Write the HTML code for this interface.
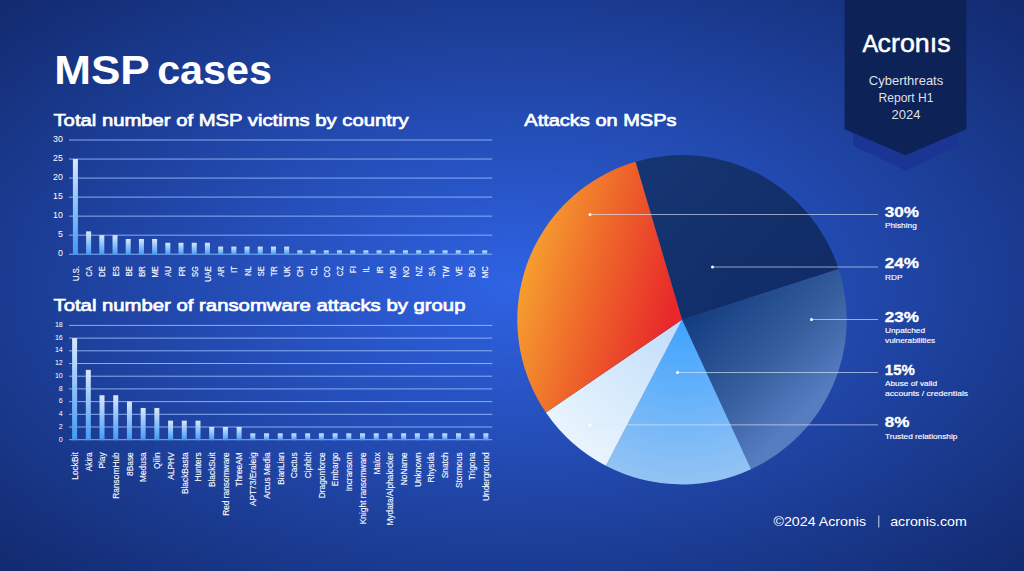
<!DOCTYPE html>
<html><head><meta charset="utf-8"><title>MSP cases</title>
<style>
html,body{margin:0;padding:0;background:#122A6E;}
body{width:1024px;height:571px;overflow:hidden;font-family:"Liberation Sans",sans-serif;}
svg{display:block;font-family:"Liberation Sans",sans-serif;}
text{fill:#fff;}
</style></head><body>
<svg width="1024" height="571" viewBox="0 0 1024 571">
<defs>
<radialGradient id="bg" cx="512" cy="285.5" r="1" gradientUnits="userSpaceOnUse" gradientTransform="translate(512 285.5) scale(724 403.8) translate(-512 -285.5)">
<stop offset="0" stop-color="#2F63E4"/><stop offset="1" stop-color="#122A6E"/></radialGradient>
<linearGradient id="bar" x1="0" y1="0" x2="0" y2="1"><stop offset="0" stop-color="#D9E8FC"/><stop offset="1" stop-color="#4199F6"/></linearGradient>
<linearGradient id="or" x1="518" y1="285" x2="682" y2="329" gradientUnits="userSpaceOnUse"><stop offset="0" stop-color="#F6A030"/><stop offset="0.45" stop-color="#EE642A"/><stop offset="0.92" stop-color="#E8282A"/></linearGradient>
<linearGradient id="navy" x1="640" y1="165" x2="790" y2="300" gradientUnits="userSpaceOnUse"><stop offset="0" stop-color="#153572"/><stop offset="1" stop-color="#112C66"/></linearGradient>
<linearGradient id="mid" x1="682" y1="320" x2="789" y2="428" gradientUnits="userSpaceOnUse"><stop offset="0" stop-color="#123C7F"/><stop offset="0.6" stop-color="#375F9F"/><stop offset="1" stop-color="#567DC0"/></linearGradient>
<radialGradient id="lb" cx="682" cy="320" r="165" gradientUnits="userSpaceOnUse"><stop offset="0" stop-color="#3FA3FF"/><stop offset="1" stop-color="#93C3F4"/></radialGradient>
<radialGradient id="vl" cx="682" cy="320" r="165" gradientUnits="userSpaceOnUse"><stop offset="0" stop-color="#BFDDFA"/><stop offset="1" stop-color="#E9F4FD"/></radialGradient>
</defs>
<rect width="1024" height="571" fill="url(#bg)"/>

<polygon points="853,120 958,120 958,145.5 905.5,170.5 853,145.5" fill="#1B3594"/>
<polygon points="844.6,0 966.4,0 966.4,129.3 905.5,155.2 844.6,129.3" fill="#0D2357"/>
<text transform="translate(862.60 51.60)" font-size="23.5" stroke="#fff" stroke-width="0.5">A</text>
<text transform="translate(877.60 51.60) scale(1.015 1)" font-size="26.4" stroke="#fff" stroke-width="0.5">cronıs</text>
<text transform="translate(906.00 85.20)" font-size="13" text-anchor="middle" fill="#DCE3F5" fill-opacity="0.88">Cyberthreats</text>
<text transform="translate(906.00 102.00) scale(0.93 1)" font-size="13" text-anchor="middle" fill="#DCE3F5" fill-opacity="0.88">Report H1</text>
<text transform="translate(906.00 118.80)" font-size="13" text-anchor="middle" fill="#DCE3F5" fill-opacity="0.88">2024</text>
<text transform="translate(54.20 83.80) scale(1.094 1)" font-size="40.3" font-weight="bold">MSP</text>
<text transform="translate(157.20 83.80) scale(1.023 1)" font-size="40.3" font-weight="bold">cases</text>
<text transform="translate(53.50 126.40) scale(1.178 1)" font-size="17.2" stroke="#fff" stroke-width="0.7">Total number of MSP victims by country</text>
<text transform="translate(53.50 311.40) scale(1.181 1)" font-size="17.2" stroke="#fff" stroke-width="0.7">Total number of ransomware attacks by group</text>
<text transform="translate(524.30 126.40) scale(1.163 1)" font-size="17.2" stroke="#fff" stroke-width="0.7">Attacks on MSPs</text>
<rect x="69" y="139.50" width="423.3" height="1" fill="#93B7F8" opacity="0.9"/>
<text transform="translate(62.80 141.80)" font-size="8.8" text-anchor="end" fill="#E4ECFB">30</text>
<rect x="69" y="158.53" width="423.3" height="1" fill="#93B7F8" opacity="0.9"/>
<text transform="translate(62.80 160.90)" font-size="8.8" text-anchor="end" fill="#E4ECFB">25</text>
<rect x="69" y="177.57" width="423.3" height="1" fill="#93B7F8" opacity="0.9"/>
<text transform="translate(62.80 180.00)" font-size="8.8" text-anchor="end" fill="#E4ECFB">20</text>
<rect x="69" y="196.60" width="423.3" height="1" fill="#93B7F8" opacity="0.9"/>
<text transform="translate(62.80 199.10)" font-size="8.8" text-anchor="end" fill="#E4ECFB">15</text>
<rect x="69" y="215.63" width="423.3" height="1" fill="#93B7F8" opacity="0.9"/>
<text transform="translate(62.80 218.20)" font-size="8.8" text-anchor="end" fill="#E4ECFB">10</text>
<rect x="69" y="234.67" width="423.3" height="1" fill="#93B7F8" opacity="0.9"/>
<text transform="translate(62.80 237.30)" font-size="8.8" text-anchor="end" fill="#E4ECFB">5</text>
<rect x="69" y="253.70" width="423.3" height="1" fill="#93B7F8" opacity="0.9"/>
<text transform="translate(62.80 256.40)" font-size="8.8" text-anchor="end" fill="#E4ECFB">0</text>
<rect x="72.90" y="159.03" width="5" height="95.67" fill="url(#bar)"/>
<text transform="translate(78.92 266.20) rotate(-90) scale(0.86 1)" font-size="8.8" text-anchor="end" fill="#F4F7FE" stroke="#F4F7FE" stroke-width="0.12">U.S.</text>
<rect x="86.10" y="231.36" width="5" height="23.34" fill="url(#bar)"/>
<text transform="translate(92.12 266.20) rotate(-90) scale(0.86 1)" font-size="8.8" text-anchor="end" fill="#F4F7FE" stroke="#F4F7FE" stroke-width="0.12">CA</text>
<rect x="99.31" y="235.17" width="5" height="19.53" fill="url(#bar)"/>
<text transform="translate(105.33 266.20) rotate(-90) scale(0.86 1)" font-size="8.8" text-anchor="end" fill="#F4F7FE" stroke="#F4F7FE" stroke-width="0.12">DE</text>
<rect x="112.51" y="235.17" width="5" height="19.53" fill="url(#bar)"/>
<text transform="translate(118.53 266.20) rotate(-90) scale(0.86 1)" font-size="8.8" text-anchor="end" fill="#F4F7FE" stroke="#F4F7FE" stroke-width="0.12">ES</text>
<rect x="125.71" y="238.97" width="5" height="15.73" fill="url(#bar)"/>
<text transform="translate(131.73 266.20) rotate(-90) scale(0.86 1)" font-size="8.8" text-anchor="end" fill="#F4F7FE" stroke="#F4F7FE" stroke-width="0.12">BE</text>
<rect x="138.92" y="238.97" width="5" height="15.73" fill="url(#bar)"/>
<text transform="translate(144.94 266.20) rotate(-90) scale(0.86 1)" font-size="8.8" text-anchor="end" fill="#F4F7FE" stroke="#F4F7FE" stroke-width="0.12">BR</text>
<rect x="152.12" y="238.97" width="5" height="15.73" fill="url(#bar)"/>
<text transform="translate(158.14 266.20) rotate(-90) scale(0.86 1)" font-size="8.8" text-anchor="end" fill="#F4F7FE" stroke="#F4F7FE" stroke-width="0.12">ME</text>
<rect x="165.32" y="242.78" width="5" height="11.92" fill="url(#bar)"/>
<text transform="translate(171.34 266.20) rotate(-90) scale(0.86 1)" font-size="8.8" text-anchor="end" fill="#F4F7FE" stroke="#F4F7FE" stroke-width="0.12">AU</text>
<rect x="178.53" y="242.78" width="5" height="11.92" fill="url(#bar)"/>
<text transform="translate(184.55 266.20) rotate(-90) scale(0.86 1)" font-size="8.8" text-anchor="end" fill="#F4F7FE" stroke="#F4F7FE" stroke-width="0.12">FR</text>
<rect x="191.73" y="242.78" width="5" height="11.92" fill="url(#bar)"/>
<text transform="translate(197.75 266.20) rotate(-90) scale(0.86 1)" font-size="8.8" text-anchor="end" fill="#F4F7FE" stroke="#F4F7FE" stroke-width="0.12">SG</text>
<rect x="204.93" y="242.78" width="5" height="11.92" fill="url(#bar)"/>
<text transform="translate(210.95 266.20) rotate(-90) scale(0.86 1)" font-size="8.8" text-anchor="end" fill="#F4F7FE" stroke="#F4F7FE" stroke-width="0.12">UAE</text>
<rect x="218.14" y="246.59" width="5" height="8.11" fill="url(#bar)"/>
<text transform="translate(224.16 266.20) rotate(-90) scale(0.86 1)" font-size="8.8" text-anchor="end" fill="#F4F7FE" stroke="#F4F7FE" stroke-width="0.12">AR</text>
<rect x="231.34" y="246.59" width="5" height="8.11" fill="url(#bar)"/>
<text transform="translate(237.36 266.20) rotate(-90) scale(0.86 1)" font-size="8.8" text-anchor="end" fill="#F4F7FE" stroke="#F4F7FE" stroke-width="0.12">IT</text>
<rect x="244.54" y="246.59" width="5" height="8.11" fill="url(#bar)"/>
<text transform="translate(250.56 266.20) rotate(-90) scale(0.86 1)" font-size="8.8" text-anchor="end" fill="#F4F7FE" stroke="#F4F7FE" stroke-width="0.12">NL</text>
<rect x="257.75" y="246.59" width="5" height="8.11" fill="url(#bar)"/>
<text transform="translate(263.77 266.20) rotate(-90) scale(0.86 1)" font-size="8.8" text-anchor="end" fill="#F4F7FE" stroke="#F4F7FE" stroke-width="0.12">SE</text>
<rect x="270.95" y="246.59" width="5" height="8.11" fill="url(#bar)"/>
<text transform="translate(276.97 266.20) rotate(-90) scale(0.86 1)" font-size="8.8" text-anchor="end" fill="#F4F7FE" stroke="#F4F7FE" stroke-width="0.12">TR</text>
<rect x="284.15" y="246.59" width="5" height="8.11" fill="url(#bar)"/>
<text transform="translate(290.17 266.20) rotate(-90) scale(0.86 1)" font-size="8.8" text-anchor="end" fill="#F4F7FE" stroke="#F4F7FE" stroke-width="0.12">UK</text>
<rect x="297.35" y="250.39" width="5" height="4.31" fill="url(#bar)"/>
<text transform="translate(303.37 266.20) rotate(-90) scale(0.86 1)" font-size="8.8" text-anchor="end" fill="#F4F7FE" stroke="#F4F7FE" stroke-width="0.12">CH</text>
<rect x="310.56" y="250.39" width="5" height="4.31" fill="url(#bar)"/>
<text transform="translate(316.58 266.20) rotate(-90) scale(0.86 1)" font-size="8.8" text-anchor="end" fill="#F4F7FE" stroke="#F4F7FE" stroke-width="0.12">CL</text>
<rect x="323.76" y="250.39" width="5" height="4.31" fill="url(#bar)"/>
<text transform="translate(329.78 266.20) rotate(-90) scale(0.86 1)" font-size="8.8" text-anchor="end" fill="#F4F7FE" stroke="#F4F7FE" stroke-width="0.12">CO</text>
<rect x="336.96" y="250.39" width="5" height="4.31" fill="url(#bar)"/>
<text transform="translate(342.98 266.20) rotate(-90) scale(0.86 1)" font-size="8.8" text-anchor="end" fill="#F4F7FE" stroke="#F4F7FE" stroke-width="0.12">CZ</text>
<rect x="350.17" y="250.39" width="5" height="4.31" fill="url(#bar)"/>
<text transform="translate(356.19 266.20) rotate(-90) scale(0.86 1)" font-size="8.8" text-anchor="end" fill="#F4F7FE" stroke="#F4F7FE" stroke-width="0.12">FI</text>
<rect x="363.37" y="250.39" width="5" height="4.31" fill="url(#bar)"/>
<text transform="translate(369.39 266.20) rotate(-90) scale(0.86 1)" font-size="8.8" text-anchor="end" fill="#F4F7FE" stroke="#F4F7FE" stroke-width="0.12">IL</text>
<rect x="376.57" y="250.39" width="5" height="4.31" fill="url(#bar)"/>
<text transform="translate(382.59 266.20) rotate(-90) scale(0.86 1)" font-size="8.8" text-anchor="end" fill="#F4F7FE" stroke="#F4F7FE" stroke-width="0.12">IR</text>
<rect x="389.78" y="250.39" width="5" height="4.31" fill="url(#bar)"/>
<text transform="translate(395.80 266.20) rotate(-90) scale(0.86 1)" font-size="8.8" text-anchor="end" fill="#F4F7FE" stroke="#F4F7FE" stroke-width="0.12">MO</text>
<rect x="402.98" y="250.39" width="5" height="4.31" fill="url(#bar)"/>
<text transform="translate(409.00 266.20) rotate(-90) scale(0.86 1)" font-size="8.8" text-anchor="end" fill="#F4F7FE" stroke="#F4F7FE" stroke-width="0.12">NO</text>
<rect x="416.18" y="250.39" width="5" height="4.31" fill="url(#bar)"/>
<text transform="translate(422.20 266.20) rotate(-90) scale(0.86 1)" font-size="8.8" text-anchor="end" fill="#F4F7FE" stroke="#F4F7FE" stroke-width="0.12">NZ</text>
<rect x="429.39" y="250.39" width="5" height="4.31" fill="url(#bar)"/>
<text transform="translate(435.41 266.20) rotate(-90) scale(0.86 1)" font-size="8.8" text-anchor="end" fill="#F4F7FE" stroke="#F4F7FE" stroke-width="0.12">SA</text>
<rect x="442.59" y="250.39" width="5" height="4.31" fill="url(#bar)"/>
<text transform="translate(448.61 266.20) rotate(-90) scale(0.86 1)" font-size="8.8" text-anchor="end" fill="#F4F7FE" stroke="#F4F7FE" stroke-width="0.12">TW</text>
<rect x="455.79" y="250.39" width="5" height="4.31" fill="url(#bar)"/>
<text transform="translate(461.81 266.20) rotate(-90) scale(0.86 1)" font-size="8.8" text-anchor="end" fill="#F4F7FE" stroke="#F4F7FE" stroke-width="0.12">VE</text>
<rect x="469.00" y="250.39" width="5" height="4.31" fill="url(#bar)"/>
<text transform="translate(475.02 266.20) rotate(-90) scale(0.86 1)" font-size="8.8" text-anchor="end" fill="#F4F7FE" stroke="#F4F7FE" stroke-width="0.12">BO</text>
<rect x="482.20" y="250.39" width="5" height="4.31" fill="url(#bar)"/>
<text transform="translate(488.22 266.20) rotate(-90) scale(0.86 1)" font-size="8.8" text-anchor="end" fill="#F4F7FE" stroke="#F4F7FE" stroke-width="0.12">MC</text>
<rect x="69" y="324.90" width="423.3" height="1" fill="#93B7F8" opacity="0.9"/>
<text transform="translate(62.80 326.98) scale(0.9 1)" font-size="7.9" text-anchor="end" fill="#E4ECFB">18</text>
<rect x="69" y="337.60" width="423.3" height="1" fill="#93B7F8" opacity="0.9"/>
<text transform="translate(62.80 339.72) scale(0.9 1)" font-size="7.9" text-anchor="end" fill="#E4ECFB">16</text>
<rect x="69" y="350.30" width="423.3" height="1" fill="#93B7F8" opacity="0.9"/>
<text transform="translate(62.80 352.46) scale(0.9 1)" font-size="7.9" text-anchor="end" fill="#E4ECFB">14</text>
<rect x="69" y="363.00" width="423.3" height="1" fill="#93B7F8" opacity="0.9"/>
<text transform="translate(62.80 365.21) scale(0.9 1)" font-size="7.9" text-anchor="end" fill="#E4ECFB">12</text>
<rect x="69" y="375.70" width="423.3" height="1" fill="#93B7F8" opacity="0.9"/>
<text transform="translate(62.80 377.95) scale(0.9 1)" font-size="7.9" text-anchor="end" fill="#E4ECFB">10</text>
<rect x="69" y="388.40" width="423.3" height="1" fill="#93B7F8" opacity="0.9"/>
<text transform="translate(62.80 390.70) scale(0.9 1)" font-size="7.9" text-anchor="end" fill="#E4ECFB">8</text>
<rect x="69" y="401.10" width="423.3" height="1" fill="#93B7F8" opacity="0.9"/>
<text transform="translate(62.80 403.44) scale(0.9 1)" font-size="7.9" text-anchor="end" fill="#E4ECFB">6</text>
<rect x="69" y="413.80" width="423.3" height="1" fill="#93B7F8" opacity="0.9"/>
<text transform="translate(62.80 416.19) scale(0.9 1)" font-size="7.9" text-anchor="end" fill="#E4ECFB">4</text>
<rect x="69" y="426.50" width="423.3" height="1" fill="#93B7F8" opacity="0.9"/>
<text transform="translate(62.80 428.93) scale(0.9 1)" font-size="7.9" text-anchor="end" fill="#E4ECFB">2</text>
<rect x="69" y="439.20" width="423.3" height="1" fill="#93B7F8" opacity="0.9"/>
<text transform="translate(62.80 441.68) scale(0.9 1)" font-size="7.9" text-anchor="end" fill="#E4ECFB">0</text>
<rect x="72.10" y="338.10" width="5" height="102.10" fill="url(#bar)"/>
<text transform="translate(77.88 452.30) rotate(-90) scale(1.02 1)" font-size="8.2" text-anchor="end" fill="#F4F7FE" stroke="#F4F7FE" stroke-width="0.12">LockBit</text>
<rect x="85.81" y="369.85" width="5" height="70.35" fill="url(#bar)"/>
<text transform="translate(91.59 452.30) rotate(-90) scale(1.02 1)" font-size="8.2" text-anchor="end" fill="#F4F7FE" stroke="#F4F7FE" stroke-width="0.12">Akira</text>
<rect x="99.52" y="395.25" width="5" height="44.95" fill="url(#bar)"/>
<text transform="translate(105.30 452.30) rotate(-90) scale(1.02 1)" font-size="8.2" text-anchor="end" fill="#F4F7FE" stroke="#F4F7FE" stroke-width="0.12">Play</text>
<rect x="113.23" y="395.25" width="5" height="44.95" fill="url(#bar)"/>
<text transform="translate(119.01 452.30) rotate(-90) scale(1.02 1)" font-size="8.2" text-anchor="end" fill="#F4F7FE" stroke="#F4F7FE" stroke-width="0.12">RansomHub</text>
<rect x="126.94" y="401.60" width="5" height="38.60" fill="url(#bar)"/>
<text transform="translate(132.72 452.30) rotate(-90) scale(1.02 1)" font-size="8.2" text-anchor="end" fill="#F4F7FE" stroke="#F4F7FE" stroke-width="0.12">8Base</text>
<rect x="140.65" y="407.95" width="5" height="32.25" fill="url(#bar)"/>
<text transform="translate(146.43 452.30) rotate(-90) scale(1.02 1)" font-size="8.2" text-anchor="end" fill="#F4F7FE" stroke="#F4F7FE" stroke-width="0.12">Medusa</text>
<rect x="154.36" y="407.95" width="5" height="32.25" fill="url(#bar)"/>
<text transform="translate(160.14 452.30) rotate(-90) scale(1.02 1)" font-size="8.2" text-anchor="end" fill="#F4F7FE" stroke="#F4F7FE" stroke-width="0.12">Qilin</text>
<rect x="168.07" y="420.65" width="5" height="19.55" fill="url(#bar)"/>
<text transform="translate(173.85 452.30) rotate(-90) scale(1.02 1)" font-size="8.2" text-anchor="end" fill="#F4F7FE" stroke="#F4F7FE" stroke-width="0.12">ALPHV</text>
<rect x="181.78" y="420.65" width="5" height="19.55" fill="url(#bar)"/>
<text transform="translate(187.56 452.30) rotate(-90) scale(1.02 1)" font-size="8.2" text-anchor="end" fill="#F4F7FE" stroke="#F4F7FE" stroke-width="0.12">BlackBasta</text>
<rect x="195.49" y="420.65" width="5" height="19.55" fill="url(#bar)"/>
<text transform="translate(201.27 452.30) rotate(-90) scale(1.02 1)" font-size="8.2" text-anchor="end" fill="#F4F7FE" stroke="#F4F7FE" stroke-width="0.12">Hunters</text>
<rect x="209.20" y="427.00" width="5" height="13.20" fill="url(#bar)"/>
<text transform="translate(214.98 452.30) rotate(-90) scale(1.02 1)" font-size="8.2" text-anchor="end" fill="#F4F7FE" stroke="#F4F7FE" stroke-width="0.12">BlackSuit</text>
<rect x="222.91" y="427.00" width="5" height="13.20" fill="url(#bar)"/>
<text transform="translate(228.69 452.30) rotate(-90) scale(1.02 1)" font-size="8.2" text-anchor="end" fill="#F4F7FE" stroke="#F4F7FE" stroke-width="0.12">Red ransomware</text>
<rect x="236.62" y="427.00" width="5" height="13.20" fill="url(#bar)"/>
<text transform="translate(242.40 452.30) rotate(-90) scale(1.02 1)" font-size="8.2" text-anchor="end" fill="#F4F7FE" stroke="#F4F7FE" stroke-width="0.12">ThreeAM</text>
<rect x="250.33" y="433.35" width="5" height="6.85" fill="url(#bar)"/>
<text transform="translate(256.11 452.30) rotate(-90) scale(1.02 1)" font-size="8.2" text-anchor="end" fill="#F4F7FE" stroke="#F4F7FE" stroke-width="0.12">APT73/Eraleig</text>
<rect x="264.04" y="433.35" width="5" height="6.85" fill="url(#bar)"/>
<text transform="translate(269.82 452.30) rotate(-90) scale(1.02 1)" font-size="8.2" text-anchor="end" fill="#F4F7FE" stroke="#F4F7FE" stroke-width="0.12">Arcus Media</text>
<rect x="277.75" y="433.35" width="5" height="6.85" fill="url(#bar)"/>
<text transform="translate(283.53 452.30) rotate(-90) scale(1.02 1)" font-size="8.2" text-anchor="end" fill="#F4F7FE" stroke="#F4F7FE" stroke-width="0.12">BianLian</text>
<rect x="291.46" y="433.35" width="5" height="6.85" fill="url(#bar)"/>
<text transform="translate(297.24 452.30) rotate(-90) scale(1.02 1)" font-size="8.2" text-anchor="end" fill="#F4F7FE" stroke="#F4F7FE" stroke-width="0.12">Cactus</text>
<rect x="305.17" y="433.35" width="5" height="6.85" fill="url(#bar)"/>
<text transform="translate(310.95 452.30) rotate(-90) scale(1.02 1)" font-size="8.2" text-anchor="end" fill="#F4F7FE" stroke="#F4F7FE" stroke-width="0.12">Ciphbit</text>
<rect x="318.88" y="433.35" width="5" height="6.85" fill="url(#bar)"/>
<text transform="translate(324.66 452.30) rotate(-90) scale(1.02 1)" font-size="8.2" text-anchor="end" fill="#F4F7FE" stroke="#F4F7FE" stroke-width="0.12">Dragonforce</text>
<rect x="332.59" y="433.35" width="5" height="6.85" fill="url(#bar)"/>
<text transform="translate(338.37 452.30) rotate(-90) scale(1.02 1)" font-size="8.2" text-anchor="end" fill="#F4F7FE" stroke="#F4F7FE" stroke-width="0.12">Embargo</text>
<rect x="346.30" y="433.35" width="5" height="6.85" fill="url(#bar)"/>
<text transform="translate(352.08 452.30) rotate(-90) scale(1.02 1)" font-size="8.2" text-anchor="end" fill="#F4F7FE" stroke="#F4F7FE" stroke-width="0.12">Incransom</text>
<rect x="360.01" y="433.35" width="5" height="6.85" fill="url(#bar)"/>
<text transform="translate(365.79 452.30) rotate(-90) scale(1.02 1)" font-size="8.2" text-anchor="end" fill="#F4F7FE" stroke="#F4F7FE" stroke-width="0.12">Knight ransomware</text>
<rect x="373.72" y="433.35" width="5" height="6.85" fill="url(#bar)"/>
<text transform="translate(379.50 452.30) rotate(-90) scale(1.02 1)" font-size="8.2" text-anchor="end" fill="#F4F7FE" stroke="#F4F7FE" stroke-width="0.12">Malox</text>
<rect x="387.43" y="433.35" width="5" height="6.85" fill="url(#bar)"/>
<text transform="translate(393.21 452.30) rotate(-90) scale(1.02 1)" font-size="8.2" text-anchor="end" fill="#F4F7FE" stroke="#F4F7FE" stroke-width="0.12">Mydata/Alphalocker</text>
<rect x="401.14" y="433.35" width="5" height="6.85" fill="url(#bar)"/>
<text transform="translate(406.92 452.30) rotate(-90) scale(1.02 1)" font-size="8.2" text-anchor="end" fill="#F4F7FE" stroke="#F4F7FE" stroke-width="0.12">NoName</text>
<rect x="414.85" y="433.35" width="5" height="6.85" fill="url(#bar)"/>
<text transform="translate(420.63 452.30) rotate(-90) scale(1.02 1)" font-size="8.2" text-anchor="end" fill="#F4F7FE" stroke="#F4F7FE" stroke-width="0.12">Unknown</text>
<rect x="428.56" y="433.35" width="5" height="6.85" fill="url(#bar)"/>
<text transform="translate(434.34 452.30) rotate(-90) scale(1.02 1)" font-size="8.2" text-anchor="end" fill="#F4F7FE" stroke="#F4F7FE" stroke-width="0.12">Rhysida</text>
<rect x="442.27" y="433.35" width="5" height="6.85" fill="url(#bar)"/>
<text transform="translate(448.05 452.30) rotate(-90) scale(1.02 1)" font-size="8.2" text-anchor="end" fill="#F4F7FE" stroke="#F4F7FE" stroke-width="0.12">Snatch</text>
<rect x="455.98" y="433.35" width="5" height="6.85" fill="url(#bar)"/>
<text transform="translate(461.76 452.30) rotate(-90) scale(1.02 1)" font-size="8.2" text-anchor="end" fill="#F4F7FE" stroke="#F4F7FE" stroke-width="0.12">Stormous</text>
<rect x="469.69" y="433.35" width="5" height="6.85" fill="url(#bar)"/>
<text transform="translate(475.47 452.30) rotate(-90) scale(1.02 1)" font-size="8.2" text-anchor="end" fill="#F4F7FE" stroke="#F4F7FE" stroke-width="0.12">Trigona</text>
<rect x="483.40" y="433.35" width="5" height="6.85" fill="url(#bar)"/>
<text transform="translate(489.18 452.30) rotate(-90) scale(1.02 1)" font-size="8.2" text-anchor="end" fill="#F4F7FE" stroke="#F4F7FE" stroke-width="0.12">Underground</text>
<path d="M682,319.7 L635.50,161.70 A164.7,164.7 0 0 1 838.73,269.08 Z" fill="url(#navy)"/>
<path d="M682,319.7 L838.73,269.08 A164.7,164.7 0 0 1 751.08,469.21 Z" fill="url(#mid)"/>
<path d="M682,319.7 L751.08,469.21 A164.7,164.7 0 0 1 605.95,465.79 Z" fill="url(#lb)"/>
<path d="M682,319.7 L605.95,465.79 A164.7,164.7 0 0 1 545.94,412.51 Z" fill="url(#vl)"/>
<path d="M682,319.7 L545.94,412.51 A164.7,164.7 0 0 1 635.50,161.70 Z" fill="url(#or)"/>
<rect x="590" y="214.00" width="288" height="0.8" fill="#DCE8FA" opacity="0.8"/>
<circle cx="590" cy="214.40" r="1.5" fill="#fff"/>
<text transform="translate(884.80 217.20) scale(1.14 1)" font-size="15" font-weight="bold" stroke="#fff" stroke-width="0.3">30%</text>
<text transform="translate(885.00 227.80) scale(1.12 1)" font-size="7.4" fill="#F4F7FE" stroke="#F4F7FE" stroke-width="0.15">Phishing</text>
<rect x="712.5" y="266.60" width="165.5" height="0.8" fill="#DCE8FA" opacity="0.8"/>
<circle cx="712.5" cy="267.00" r="1.5" fill="#fff"/>
<text transform="translate(884.80 268.00) scale(1.14 1)" font-size="15" font-weight="bold" stroke="#fff" stroke-width="0.3">24%</text>
<text transform="translate(885.00 280.10) scale(1.12 1)" font-size="7.4" fill="#F4F7FE" stroke="#F4F7FE" stroke-width="0.15">RDP</text>
<rect x="811.5" y="319.00" width="66.5" height="0.8" fill="#DCE8FA" opacity="0.8"/>
<circle cx="811.5" cy="319.40" r="1.5" fill="#fff"/>
<text transform="translate(884.80 322.00) scale(1.14 1)" font-size="15" font-weight="bold" stroke="#fff" stroke-width="0.3">23%</text>
<text transform="translate(885.00 332.60) scale(1.12 1)" font-size="7.4" fill="#F4F7FE" stroke="#F4F7FE" stroke-width="0.15">Unpatched</text>
<text transform="translate(885.00 342.80) scale(1.12 1)" font-size="7.4" fill="#F4F7FE" stroke="#F4F7FE" stroke-width="0.15">vulnerabilities</text>
<rect x="677.5" y="372.10" width="200.5" height="0.8" fill="#DCE8FA" opacity="0.8"/>
<circle cx="677.5" cy="372.50" r="1.5" fill="#fff"/>
<text transform="translate(884.80 374.70)" font-size="15" font-weight="bold" stroke="#fff" stroke-width="0.3">15%</text>
<text transform="translate(885.00 386.00) scale(1.12 1)" font-size="7.4" fill="#F4F7FE" stroke="#F4F7FE" stroke-width="0.15">Abuse of valid</text>
<text transform="translate(885.00 396.20) scale(1.163 1)" font-size="7.4" fill="#F4F7FE" stroke="#F4F7FE" stroke-width="0.15">accounts / credentials</text>
<rect x="590" y="424.50" width="288" height="0.8" fill="#DCE8FA" opacity="0.8"/>
<circle cx="590" cy="424.90" r="1.5" fill="#fff"/>
<text transform="translate(884.80 427.40) scale(1.14 1)" font-size="15" font-weight="bold" stroke="#fff" stroke-width="0.3">8%</text>
<text transform="translate(885.00 438.70) scale(1.12 1)" font-size="7.4" fill="#F4F7FE" stroke="#F4F7FE" stroke-width="0.15">Trusted relationship</text>
<text transform="translate(773.50 526.10) scale(1.12 1)" font-size="12.7" fill="#E6ECFA">©2024 Acronis</text>
<rect x="878.3" y="515.5" width="1" height="12" fill="#C9D6F3"/>
<text transform="translate(890.20 526.10) scale(1.12 1)" font-size="12.7" fill="#E6ECFA">acronis.com</text>
</svg></body></html>
